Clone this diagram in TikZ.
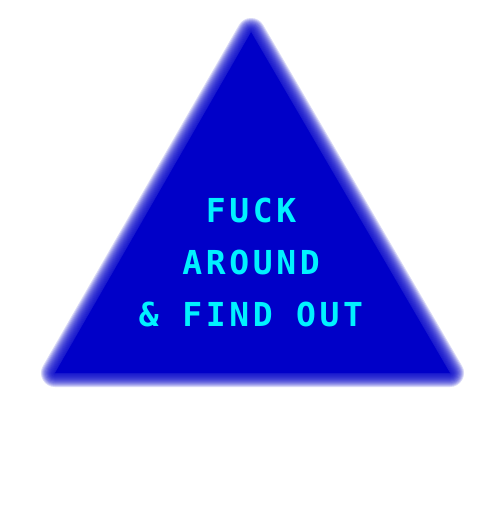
\documentclass[tikz,border=0pt]{standalone}
\usepackage{fontspec}
\newfontfamily\monob[LetterSpace=11]{DejaVu Sans Mono Bold}
\definecolor{triblue}{HTML}{0000C8}
\definecolor{txtcyan}{HTML}{00F2FF}
\begin{document}
\begin{tikzpicture}[x=1pt,y=-1pt,
  glow/.style={draw=triblue,line join=round,draw opacity=0.15},
  label/.style={text=txtcyan,font=\monob\fontsize{33}{52}\selectfont,align=center,inner sep=0pt}]
\useasboundingbox (0,0) rectangle (503,507);
\coordinate (A) at (251.1,32);
\coordinate (L) at (55,373);
\coordinate (R) at (450,373);
\fill[triblue] (A) -- (L) -- (R) -- cycle;
\foreach \w in {2,4,...,28}{
  \draw[glow,line width=\w pt] (A) -- (L) -- (R) -- cycle;
}
\node[label,anchor=base] (t1) at (251,222) {FUCK};
\node[label,anchor=base] (t2) at (251,274) {AROUND};
\node[label,anchor=base] (t3) at (251,326) {\&~FIND~OUT};
\end{tikzpicture}
\end{document}
